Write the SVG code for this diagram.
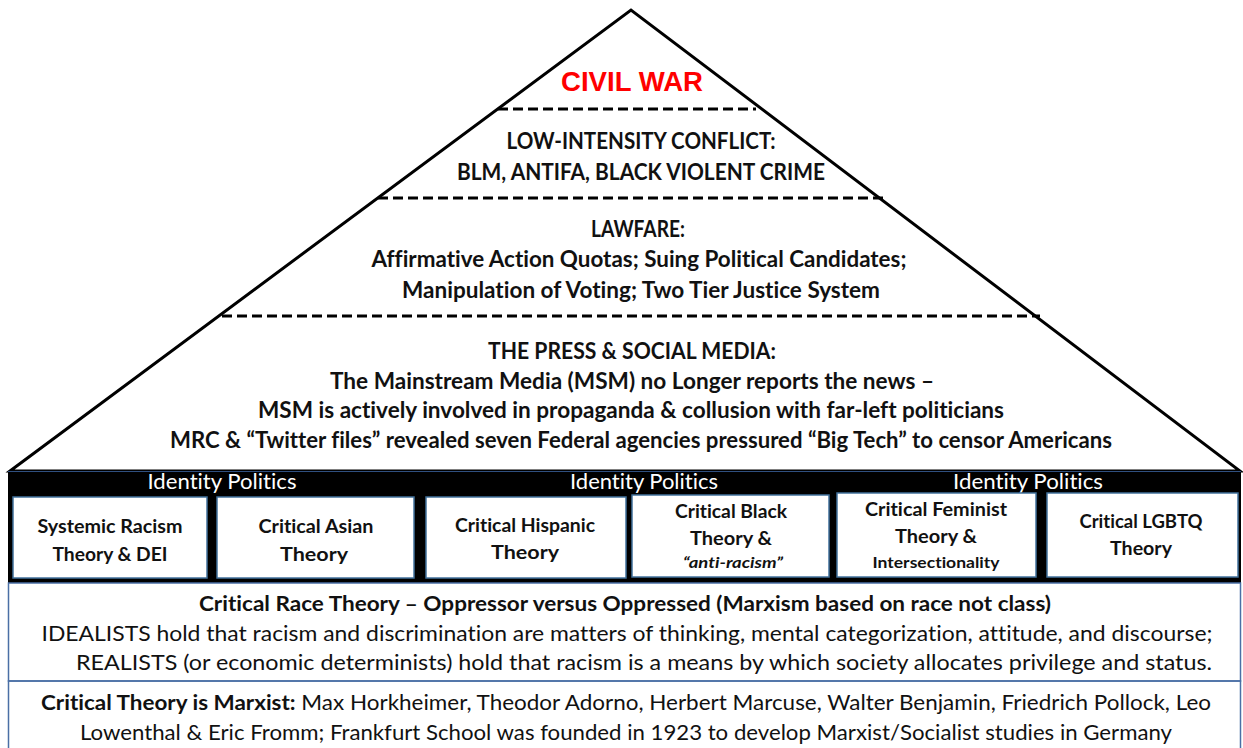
<svg xmlns="http://www.w3.org/2000/svg" width="1243" height="748" viewBox="0 0 1243 748">
  <style>
    text { font-variant-ligatures: none; }
    .t { font-family: Lato, "Liberation Sans", sans-serif; fill: #111; text-anchor: middle; }
    .b { font-weight: 700; }
    .pyr { font-size: 22px; }
    .box-t { font-size: 19px; }
    .small { font-size: 16px; }
    .ip { font-family: Lato, "Liberation Sans", sans-serif; font-size: 21px; fill: #fff; text-anchor: middle; }
    .body { font-size: 21.5px; }
    .card { fill: #fff; stroke: #41719c; stroke-width: 1.5; }
    .dash { stroke: #000; stroke-width: 3; stroke-dasharray: 10 5; fill: none; }
    .frame { stroke: #4a6fa5; stroke-width: 1.5; fill: none; }
  </style>

  <rect width="1243" height="748" fill="#fff"/>

  <!-- pyramid outline -->
  <g id="pyramid">
    <polygon points="10,471 631,10 1240,471" fill="#fff" stroke="#000" stroke-width="3" stroke-linejoin="miter"/>
  </g>

  <!-- dashed tier dividers -->
  <g id="connectors">
    <line class="dash" x1="498" y1="109" x2="756" y2="109"/>
    <line class="dash" x1="378" y1="198" x2="884" y2="198"/>
    <line class="dash" x1="222" y1="316" x2="1040" y2="316"/>
  </g>

  <g id="tier-civil-war">
    <text x="632" y="91" font-family="'Liberation Sans', Arial, sans-serif" font-weight="700" font-size="27" fill="#f00" text-anchor="middle" textLength="142" lengthAdjust="spacingAndGlyphs">CIVIL WAR</text>
  </g>

  <g id="tier-low-intensity">
    <text class="t b pyr" x="641" y="149" textLength="269" lengthAdjust="spacingAndGlyphs">LOW-INTENSITY CONFLICT:</text>
    <text class="t b pyr" x="641" y="180" textLength="368" lengthAdjust="spacingAndGlyphs">BLM, ANTIFA, BLACK VIOLENT CRIME</text>
  </g>

  <g id="tier-lawfare">
    <text class="t b pyr" x="638" y="237" textLength="94" lengthAdjust="spacingAndGlyphs">LAWFARE:</text>
    <text class="t b pyr" x="639" y="267" textLength="535" lengthAdjust="spacingAndGlyphs">Affirmative Action Quotas; Suing Political Candidates;</text>
    <text class="t b pyr" x="641" y="298" textLength="478" lengthAdjust="spacingAndGlyphs">Manipulation of Voting; Two Tier Justice System</text>
  </g>

  <g id="tier-press">
    <text class="t b pyr" x="632" y="359" textLength="288" lengthAdjust="spacingAndGlyphs">THE PRESS &amp; SOCIAL MEDIA:</text>
    <text class="t b pyr" x="632" y="389" textLength="604" lengthAdjust="spacingAndGlyphs">The Mainstream Media (MSM) no Longer reports the news –</text>
    <text class="t b pyr" x="631" y="418" textLength="746" lengthAdjust="spacingAndGlyphs">MSM is actively involved in propaganda &amp; collusion with far-left politicians</text>
    <text class="t b pyr" x="641" y="448" textLength="942" lengthAdjust="spacingAndGlyphs">MRC &amp; “Twitter files” revealed seven Federal agencies pressured “Big Tech” to censor Americans</text>
  </g>

  <!-- identity politics band -->
  <g id="identity-band">
    <rect x="8" y="471" width="1233" height="112" fill="#000"/>
    <line x1="8" y1="471.5" x2="1241" y2="471.5" stroke="#2f4f7f" stroke-width="1"/>
    <text class="ip" x="222" y="489" textLength="149" lengthAdjust="spacingAndGlyphs">Identity Politics</text>
    <text class="ip" x="644" y="489" textLength="148" lengthAdjust="spacingAndGlyphs">Identity Politics</text>
    <text class="ip" x="1028" y="489" textLength="150" lengthAdjust="spacingAndGlyphs">Identity Politics</text>
  </g>

  <g id="box-systemic">
    <rect class="card" x="13" y="497" width="194" height="81"/>
    <text class="t b box-t" x="110" y="533" textLength="145" lengthAdjust="spacingAndGlyphs">Systemic Racism</text>
    <text class="t b box-t" x="110" y="561" textLength="115" lengthAdjust="spacingAndGlyphs">Theory &amp; DEI</text>
  </g>

  <g id="box-asian">
    <rect class="card" x="217" y="497" width="197" height="81"/>
    <text class="t b box-t" x="316" y="533" textLength="115" lengthAdjust="spacingAndGlyphs">Critical Asian</text>
    <text class="t b box-t" x="314" y="561" textLength="68" lengthAdjust="spacingAndGlyphs">Theory</text>
  </g>

  <g id="box-hispanic">
    <rect class="card" x="426" y="497" width="200" height="81"/>
    <text class="t b box-t" x="525" y="532" textLength="140" lengthAdjust="spacingAndGlyphs">Critical Hispanic</text>
    <text class="t b box-t" x="525" y="559" textLength="68" lengthAdjust="spacingAndGlyphs">Theory</text>
  </g>

  <g id="box-black">
    <rect class="card" x="632" y="495" width="197" height="82"/>
    <text class="t b box-t" x="731" y="518" textLength="112" lengthAdjust="spacingAndGlyphs">Critical Black</text>
    <text class="t b box-t" x="731" y="545" textLength="82" lengthAdjust="spacingAndGlyphs">Theory &amp;</text>
    <text class="t b small" x="733" y="568" font-style="italic" textLength="100" lengthAdjust="spacingAndGlyphs">“anti-racism”</text>
  </g>

  <g id="box-feminist">
    <rect class="card" x="837" y="493" width="199" height="84"/>
    <text class="t b box-t" x="936" y="516" textLength="142" lengthAdjust="spacingAndGlyphs">Critical Feminist</text>
    <text class="t b box-t" x="936" y="543" textLength="82" lengthAdjust="spacingAndGlyphs">Theory &amp;</text>
    <text class="t b small" x="936" y="568" textLength="127" lengthAdjust="spacingAndGlyphs">Intersectionality</text>
  </g>

  <g id="box-lgbtq">
    <rect class="card" x="1047" y="493" width="191" height="84"/>
    <text class="t b box-t" x="1141" y="528" textLength="123" lengthAdjust="spacingAndGlyphs">Critical LGBTQ</text>
    <text class="t b box-t" x="1141" y="555" textLength="62" lengthAdjust="spacingAndGlyphs">Theory</text>
  </g>

  <!-- critical race theory panel -->
  <g id="crt-panel">
    <rect x="8.5" y="583" width="1232" height="98" fill="#fff" stroke="#4a6fa5" stroke-width="1.5"/>
    <text class="t b body" x="625" y="611" textLength="852" lengthAdjust="spacingAndGlyphs">Critical Race Theory – Oppressor versus Oppressed (Marxism based on race not class)</text>
    <text class="t body" x="627" y="641" textLength="1171" lengthAdjust="spacingAndGlyphs">IDEALISTS hold that racism and discrimination are matters of thinking, mental categorization, attitude, and discourse;</text>
    <text class="t body" x="644" y="670" textLength="1136" lengthAdjust="spacingAndGlyphs">REALISTS (or economic determinists) hold that racism is a means by which society allocates privilege and status.</text>
  </g>

  <!-- critical theory panel -->
  <g id="critical-theory-panel">
    <path class="frame" d="M8.5,748 V681 H1240.5 V748"/>
    <text class="t body" x="626" y="710" textLength="1170" lengthAdjust="spacingAndGlyphs"><tspan font-weight="700">Critical Theory is Marxist:</tspan> Max Horkheimer, Theodor Adorno, Herbert Marcuse, Walter Benjamin, Friedrich Pollock, Leo</text>
    <text class="t body" x="626" y="740" textLength="1092" lengthAdjust="spacingAndGlyphs">Lowenthal &amp; Eric Fromm; Frankfurt School was founded in 1923 to develop Marxist/Socialist studies in Germany</text>
  </g>
</svg>
